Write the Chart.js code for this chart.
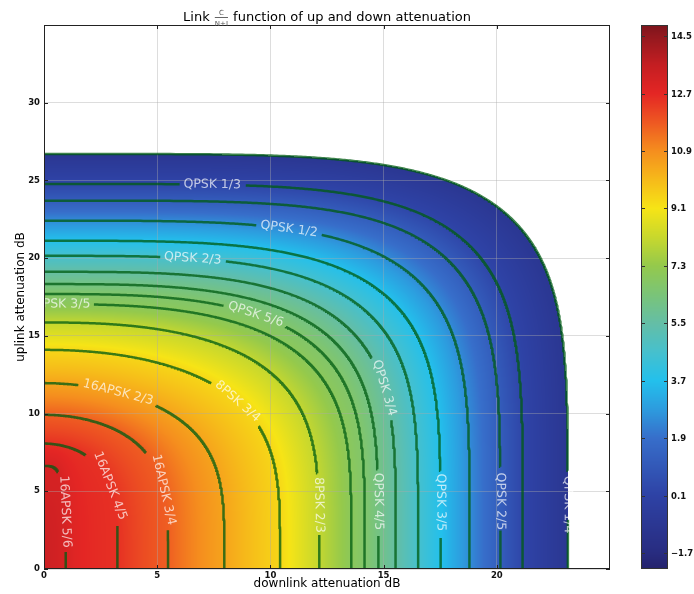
<!DOCTYPE html>
<html>
<head>
<meta charset="utf-8">
<script src="https://cdn.jsdelivr.net/npm/chart.js@4.4.1/dist/chart.umd.min.js"></script>
<style>
  html, body { margin: 0; padding: 0; background: #ffffff; }
  #wrap { width: 694px; height: 594px; }
</style>
</head>
<body>
<div id="wrap"><canvas id="c" width="694" height="594"></canvas></div>
<script>
// DVB-S2 MODCODs and their Es/N0 thresholds (dB)
const modcods = ['16APSK 5/6', '16APSK 4/5', '16APSK 3/4', '16APSK 2/3', '8PSK 3/4', '8PSK 2/3', '8PSK 3/5',
  'QPSK 5/6', 'QPSK 4/5', 'QPSK 3/4', 'QPSK 2/3', 'QPSK 3/5', 'QPSK 1/2', 'QPSK 2/5', 'QPSK 1/3', 'QPSK 1/4'];
const thresholds = [11.61, 11.03, 10.21, 8.97, 7.91, 6.62, 5.50, 5.18, 4.68, 4.03, 3.10, 2.23, 1.00, -0.30, -1.24, -2.35];
// implementation margin added to every threshold (dB)
const linkMargin = 1.5;
// downlink fade (dB) at which each MODCOD is lost with a clear uplink
const downlinkLimit = [0.96, 3.25, 5.48, 7.97, 10.43, 12.16, 13.58, 14.17, 14.77, 15.54, 16.53, 17.52, 18.80, 20.16, 21.15, 23.14];
// uplink fade (dB) at which each MODCOD is lost with a clear downlink
const uplinkLimit = [6.63, 8.07, 9.92, 11.96, 14.10, 15.86, 17.04, 17.69, 18.33, 19.12, 20.15, 21.12, 22.41, 23.70, 24.77, 26.70];
// how sharply each iso-C/(N+I) line turns between the two fades
const downlinkBend = [3.5, 2.0, 2.0, 1.9, 2.1, 2.5, 2.8, 3.0, 3.2, 3.4, 3.5, 3.7, 4.0, 4.5, 4.6, 4.7];
const uplinkBend = [4.0, 4.0, 4.0, 4.0, 4.0, 4.2, 4.3, 4.4, 4.5, 4.5, 4.6, 4.7, 4.8, 4.9, 5.0, 5.2];
// Es/N0 with neither link faded (dB)
const clearSky = 11.9;
// where each MODCOD name is written on its line (downlink dB, uplink dB)
const labelDown = [1.0, 3.2, 5.55, 3.25, 8.6, 12.2, 0.86, 9.35, 14.85, 15.1, 6.6, 17.5, 10.8, 20.2, 7.4, 23.1];
const labelUp = [3.7, 5.5, 5.2, 11.2, 10.9, 4.1, 17.0, 16.4, 4.25, 11.7, 19.9, 4.3, 21.7, 4.2, 24.55, 4.3];
// axes and colour scale
const downlinkTicks = [0, 5, 10, 15, 20];
const uplinkTicks = [0, 5, 10, 15, 20, 25, 30];
const scaleTicks = [-1.7, 0.1, 1.9, 3.7, 5.5, 7.3, 9.1, 10.9, 12.7, 14.5];
const scaleMin = -2.2, scaleMax = 14.85;

// colour ramp (jet-like)
const rampValues = [-2.2, -1.7, 0.1, 1.9, 2.8, 3.7, 4.6, 5.5, 6.4, 7.3, 8.2, 9.1, 10.0, 10.9, 11.8, 12.7, 13.6, 14.5, 14.85];
const rampColors = [[36,34,108],[40,44,128],[46,66,165],[55,110,202],[45,155,222],[35,192,236],[70,192,205],[100,190,166],
  [122,196,120],[148,201,76],[200,216,45],[246,228,22],[246,186,26],[245,142,30],[238,88,34],[228,38,36],[196,30,34],
  [146,24,30],[124,20,28]];

const FONT = '"DejaVu Sans", "Liberation Sans", sans-serif';
const lineColor = 'rgba(0,92,18,0.76)';
const labelFont = '12.5px ' + FONT;
const nLines = modcods.length;
const levels = thresholds.map(t => t + linkMargin);
const peak = clearSky + linkMargin;

function rampColor(v) {
  if (v <= rampValues[0]) return rampColors[0];
  const last = rampValues.length - 1;
  if (v >= rampValues[last]) return rampColors[last];
  let k = 0;
  while (v > rampValues[k + 1]) k++;
  const f = (v - rampValues[k]) / (rampValues[k + 1] - rampValues[k]);
  const a = rampColors[k], b = rampColors[k + 1];
  return [a[0] + f * (b[0] - a[0]), a[1] + f * (b[1] - a[1]), a[2] + f * (b[2] - a[2])];
}

// normalised distance of a point from iso-line i (1 on the line)
function lineRadius(i, x, y) {
  const g = Math.pow(x / downlinkLimit[i], downlinkBend[i]) + Math.pow(y / uplinkLimit[i], uplinkBend[i]);
  return Math.pow(g, 2 / (downlinkBend[i] + uplinkBend[i]));
}

// C/(N+I) between neighbouring iso-lines; null once the last MODCOD is lost
function linkValue(x, y) {
  let prev = 0;
  for (let i = 0; i < nLines; i++) {
    const r = lineRadius(i, x, y);
    if (r < 1) {
      if (i === 0) return peak + (levels[0] - peak) * r;
      const f = (prev - 1) / (prev - r);
      return levels[i - 1] + f * (levels[i] - levels[i - 1]);
    }
    prev = r;
  }
  return null;
}

const isoLines = modcods.map((m, i) => {
  const pts = [];
  const N = 400;
  for (let k = 0; k <= N; k++) {
    const t = (k / N) * Math.PI / 2;
    pts.push({
      x: downlinkLimit[i] * Math.pow(Math.cos(t), 2 / downlinkBend[i]),
      y: uplinkLimit[i] * Math.pow(Math.sin(t), 2 / uplinkBend[i])
    });
  }
  pts[N].x = 0;
  pts[0].y = 0;
  return pts;
});

let activeChart = null;
const geomCache = {};
function labelGeom(i) {
  const chart = activeChart;
  const xs = chart.scales.x, ys = chart.scales.y;
  const key = i + ':' + chart.chartArea.width + ':' + chart.chartArea.height;
  if (geomCache[key]) return geomCache[key];
  const pts = isoLines[i].map(p => ({ x: xs.getPixelForValue(p.x), y: ys.getPixelForValue(p.y) }));
  const ax = xs.getPixelForValue(labelDown[i]), ay = ys.getPixelForValue(labelUp[i]);
  let best = 0, bd = Infinity;
  pts.forEach((p, k) => { const d = (p.x - ax) ** 2 + (p.y - ay) ** 2; if (d < bd) { bd = d; best = k; } });
  let k0 = best, k1 = best;
  const c = pts[best];
  while (k0 > 0 && Math.hypot(pts[k0].x - c.x, pts[k0].y - c.y) < 10) k0--;
  while (k1 < pts.length - 1 && Math.hypot(pts[k1].x - c.x, pts[k1].y - c.y) < 10) k1++;
  let a = Math.atan2(pts[k1].y - pts[k0].y, pts[k1].x - pts[k0].x);
  if (a > Math.PI / 2) a -= Math.PI;
  if (a <= -Math.PI / 2) a += Math.PI;
  const ctx = chart.ctx;
  ctx.save();
  ctx.font = labelFont;
  const w = ctx.measureText(modcods[i]).width;
  ctx.restore();
  return (geomCache[key] = { cx: c.x, cy: c.y, a, w });
}

function underLabel(i, p0, p1) {
  if (!activeChart || !activeChart.chartArea) return false;
  const g = labelGeom(i);
  const mx = (p0.x + p1.x) / 2 - g.cx, my = (p0.y + p1.y) / 2 - g.cy;
  const along = mx * Math.cos(g.a) + my * Math.sin(g.a);
  const perp = -mx * Math.sin(g.a) + my * Math.cos(g.a);
  return Math.abs(along) < g.w / 2 + 4 && Math.abs(perp) < 12;
}

let fieldCanvas = null, fieldKey = '';
const fieldPlugin = {
  id: 'linkField',
  beforeInit(chart) { activeChart = chart; },
  beforeDraw(chart) {
    const { left, top, right, bottom } = chart.chartArea;
    const xs = chart.scales.x, ys = chart.scales.y;
    const w = Math.round(right - left), h = Math.round(bottom - top);
    const key = left + ':' + top + ':' + w + ':' + h;
    if (key !== fieldKey) {
      fieldKey = key;
      fieldCanvas = document.createElement('canvas');
      fieldCanvas.width = w; fieldCanvas.height = h;
      const fctx = fieldCanvas.getContext('2d');
      const img = fctx.createImageData(w, h);
      const xv = [];
      for (let px = 0; px < w; px++) xv.push(xs.getValueForPixel(left + px + 0.5));
      for (let py = 0; py < h; py++) {
        const yv = ys.getValueForPixel(top + py + 0.5);
        for (let px = 0; px < w; px++) {
          const v = linkValue(xv[px], yv);
          const o = (py * w + px) * 4;
          if (v === null) { img.data[o + 3] = 0; continue; }
          const c = rampColor(v);
          img.data[o] = c[0]; img.data[o + 1] = c[1]; img.data[o + 2] = c[2]; img.data[o + 3] = 255;
        }
      }
      fctx.putImageData(img, 0, 0);
    }
    chart.ctx.drawImage(fieldCanvas, left, top);
  },
  afterDatasetsDraw(chart) {
    const ctx = chart.ctx;
    const { left, top, right, bottom } = chart.chartArea;
    // MODCOD names written along their lines
    ctx.save();
    ctx.beginPath();
    ctx.rect(left, top, right - left, bottom - top);
    ctx.clip();
    ctx.font = labelFont;
    ctx.fillStyle = 'rgba(255,255,255,0.7)';
    ctx.textAlign = 'center';
    ctx.textBaseline = 'middle';
    for (let i = 0; i < nLines; i++) {
      const g = labelGeom(i);
      ctx.save();
      ctx.translate(g.cx, g.cy);
      ctx.rotate(g.a);
      ctx.fillText(modcods[i], 0, 0);
      ctx.restore();
    }
    ctx.restore();
  },
  afterDraw(chart) {
    const ctx = chart.ctx;
    const { left, top, right, bottom } = chart.chartArea;
    const xs = chart.scales.x, ys = chart.scales.y, cb = chart.scales.cb;
    ctx.save();
    // frame and inward ticks
    ctx.strokeStyle = '#222';
    ctx.lineWidth = 1;
    ctx.strokeRect(left + 0.5, top + 0.5, right - left - 1, bottom - top - 1);
    ctx.beginPath();
    downlinkTicks.forEach(v => {
      const px = Math.round(xs.getPixelForValue(v)) + 0.5;
      ctx.moveTo(px, bottom); ctx.lineTo(px, bottom - 4);
      ctx.moveTo(px, top); ctx.lineTo(px, top + 4);
    });
    uplinkTicks.forEach(v => {
      const py = Math.round(ys.getPixelForValue(v)) + 0.5;
      ctx.moveTo(left, py); ctx.lineTo(left + 4, py);
      ctx.moveTo(right, py); ctx.lineTo(right - 4, py);
    });
    ctx.stroke();

    // colour bar
    const bx = 641, bw = 27;
    const cTop = Math.round(cb.top), cBot = Math.round(cb.bottom);
    for (let py = cTop; py < cBot; py++) {
      const c = rampColor(cb.getValueForPixel(py + 0.5));
      ctx.fillStyle = 'rgb(' + Math.round(c[0]) + ',' + Math.round(c[1]) + ',' + Math.round(c[2]) + ')';
      ctx.fillRect(bx, py, bw, 1);
    }
    ctx.strokeStyle = '#333';
    ctx.strokeRect(bx + 0.5, cTop + 0.5, bw - 1, cBot - cTop - 1);
    ctx.font = 'bold 8.5px ' + FONT;
    ctx.fillStyle = '#111';
    ctx.textAlign = 'left';
    ctx.textBaseline = 'middle';
    ctx.beginPath();
    scaleTicks.forEach(v => {
      const py = Math.round(cb.getPixelForValue(v)) + 0.5;
      ctx.moveTo(bx + bw - 4, py); ctx.lineTo(bx + bw, py);
      ctx.moveTo(bx, py); ctx.lineTo(bx + 4, py);
      ctx.fillText(v.toFixed(1).replace('-', '\u2212'), bx + bw + 3, py);
    });
    ctx.stroke();

    // title with the C/(N+I) fraction
    const cx = (left + right) / 2;
    const big = '13px ' + FONT, small = '7px ' + FONT;
    ctx.font = big;
    const wLead = ctx.measureText('Link ').width;
    const wTail = ctx.measureText(' function of up and down attenuation').width;
    ctx.font = small;
    const wFrac = Math.max(ctx.measureText('C').width, ctx.measureText('N+I').width) + 2;
    const x0 = cx - (wLead + wFrac + wTail) / 2;
    const base = 21;
    ctx.font = big;
    ctx.fillStyle = '#000';
    ctx.textAlign = 'left';
    ctx.textBaseline = 'alphabetic';
    ctx.fillText('Link ', x0, base);
    ctx.fillText(' function of up and down attenuation', x0 + wLead + wFrac, base);
    ctx.font = small;
    ctx.fillStyle = '#555';
    ctx.textAlign = 'center';
    const fx = x0 + wLead + wFrac / 2;
    ctx.fillText('C', fx, base - 6);
    ctx.fillText('N+I', fx, base + 5);
    ctx.strokeStyle = '#666';
    ctx.beginPath();
    ctx.moveTo(fx - wFrac / 2 + 1, base - 3.5);
    ctx.lineTo(fx + wFrac / 2 - 1, base - 3.5);
    ctx.stroke();
    ctx.restore();
  }
};

const datasets = isoLines.map((pts, i) => ({
  label: modcods[i],
  data: pts,
  showLine: true,
  borderColor: lineColor,
  borderWidth: 2.5,
  pointRadius: 0,
  tension: 0,
  fill: false,
  segment: {
    borderColor: ctx => underLabel(i, ctx.p0, ctx.p1) ? 'rgba(0,0,0,0)' : lineColor
  }
}));

const tickFont = { family: FONT, size: 8.5, weight: 'bold' };
const gridColor = 'rgba(170,170,170,0.4)';
new Chart(document.getElementById('c'), {
  type: 'scatter',
  data: { datasets },
  options: {
    responsive: false,
    devicePixelRatio: 1,
    animation: false,
    events: [],
    layout: { padding: { left: 0, right: 84, top: 25, bottom: 0 } },
    plugins: { legend: { display: false }, tooltip: { enabled: false }, title: { display: false } },
    scales: {
      x: {
        type: 'linear', min: 0, max: 25,
        afterBuildTicks: s => { s.ticks = downlinkTicks.map(v => ({ value: v })); },
        afterFit: s => { s.height = 25; },
        ticks: { font: tickFont, color: '#111', padding: 2, maxRotation: 0 },
        grid: { color: gridColor, drawTicks: false },
        border: { display: false },
        title: { display: true, text: 'downlink attenuation dB', font: { family: FONT, size: 12 }, color: '#000', padding: { top: 0, bottom: 3 } }
      },
      y: {
        type: 'linear', min: 0, max: 35,
        afterBuildTicks: s => { s.ticks = uplinkTicks.map(v => ({ value: v })); },
        afterFit: s => { s.width = 44; },
        ticks: { font: tickFont, color: '#111', padding: 4 },
        grid: { color: gridColor, drawTicks: false },
        border: { display: false },
        title: { display: true, text: 'uplink attenuation dB', font: { family: FONT, size: 12 }, color: '#000', padding: { top: 14, bottom: 0 } }
      },
      cb: { type: 'linear', display: false, position: 'right', min: scaleMin, max: scaleMax }
    }
  },
  plugins: [fieldPlugin]
});
</script>
</body>
</html>
